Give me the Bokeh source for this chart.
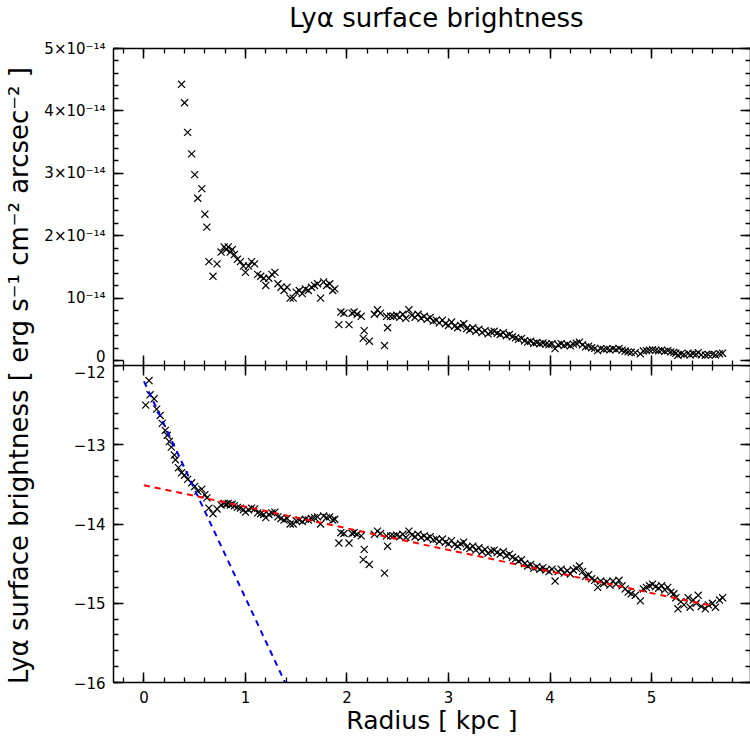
import math
import numpy as np
from bokeh.plotting import figure
from bokeh.models import (Range1d, LinearAxis, FixedTicker, CustomJSTickFormatter,
                          CustomLabelingPolicy)
from bokeh.layouts import row, column
from bokeh.embed import file_html
from bokeh.resources import INLINE
from bokeh.core.properties import value

# ---------------- data ----------------
radius = [
    0.017, 0.05, 0.06, 0.10, 0.125, 0.16, 0.18, 0.21, 0.23, 0.25, 0.27, 0.30, 0.31, 0.34,
    0.37, 0.40, 0.43, 0.47, 0.50, 0.53, 0.57, 0.60, 0.62, 0.64, 0.68, 0.72, 0.76,
    0.79, 0.81, 0.83, 0.85, 0.87, 0.89, 0.92, 0.95, 0.98, 1.00, 1.03, 1.06, 1.09, 1.12,
    1.15, 1.18, 1.20, 1.23, 1.26, 1.29, 1.32, 1.35, 1.38, 1.41, 1.44, 1.47, 1.50, 1.53,
    1.56, 1.59, 1.62, 1.65, 1.68, 1.71, 1.74, 1.77, 1.80, 1.83, 1.86, 1.88,
    1.92, 1.94, 1.97, 2.02, 2.05, 2.07, 2.10, 2.14, 2.16, 2.17, 2.22, 2.27, 2.30, 2.33,
    2.37, 2.39, 2.40, 2.43,
    2.46, 2.49, 2.52, 2.55, 2.58, 2.61, 2.64, 2.67, 2.70, 2.73, 2.76, 2.79, 2.82, 2.85,
    2.88, 2.91, 2.94, 2.97, 3.00, 3.03, 3.06, 3.09, 3.12, 3.15, 3.18, 3.21, 3.24, 3.27,
    3.30, 3.33, 3.36, 3.39, 3.42, 3.45, 3.48, 3.51, 3.54, 3.57, 3.60, 3.63, 3.66, 3.69,
    3.72, 3.75, 3.78, 3.81, 3.84, 3.87,
    3.90, 3.93, 3.96, 3.99, 4.02, 4.05, 4.08, 4.11, 4.14, 4.17, 4.20, 4.23, 4.26, 4.29,
    4.32, 4.35, 4.38, 4.41, 4.44, 4.47, 4.50, 4.53, 4.56, 4.59, 4.62, 4.65, 4.68, 4.71,
    4.74, 4.77, 4.80, 4.84, 4.89, 4.92, 4.95, 4.98, 5.01, 5.04, 5.07, 5.10, 5.13, 5.16,
    5.19, 5.22, 5.24, 5.26, 5.29, 5.32, 5.36, 5.38, 5.41, 5.44, 5.46, 5.49, 5.53, 5.56,
    5.60, 5.63, 5.67, 5.70,
]
log_sb = [
    -12.50, -12.19, -12.37, -12.42, -12.55, -12.63, -12.73, -12.82, -12.88, -12.96, -13.03, -13.13, -13.19, -13.29,
    -13.354, -13.384, -13.437, -13.48, -13.526, -13.585, -13.56, -13.63, -13.67, -13.80, -13.87, -13.81, -13.76,
    -13.74, -13.75, -13.74, -13.76, -13.75, -13.77, -13.79, -13.80, -13.82, -13.85, -13.82, -13.80, -13.81, -13.86,
    -13.87, -13.88, -13.92, -13.88, -13.86, -13.85, -13.91, -13.93, -13.95, -13.93, -14.00, -14.00, -13.96, -13.95,
    -13.97, -13.94, -13.95, -13.93, -13.92, -13.91, -14.00, -13.90, -13.92, -13.91, -13.95, -13.94,
    -14.24, -14.11, -14.12, -14.24, -14.12, -14.11, -14.13, -14.15, -14.45, -14.32, -14.51, -14.13, -14.09, -14.12,
    -14.62, -14.15, -14.28, -14.15,
    -14.15, -14.14, -14.16, -14.13, -14.17, -14.09, -14.14, -14.16, -14.13, -14.17, -14.15, -14.18, -14.16, -14.20,
    -14.19, -14.22, -14.19, -14.23, -14.25, -14.21, -14.26, -14.28, -14.25, -14.23, -14.29, -14.31, -14.28, -14.33,
    -14.30, -14.35, -14.32, -14.37, -14.34, -14.33, -14.36, -14.38, -14.35, -14.40, -14.38, -14.42, -14.44, -14.47,
    -14.45, -14.50, -14.53, -14.51, -14.56, -14.54,
    -14.57, -14.55, -14.58, -14.60, -14.57, -14.72, -14.60, -14.57, -14.62, -14.59, -14.63, -14.58, -14.56, -14.53,
    -14.60, -14.66, -14.64, -14.69, -14.71, -14.80, -14.72, -14.75, -14.73, -14.77, -14.72, -14.76, -14.71, -14.78,
    -14.82, -14.86, -14.88, -14.90, -14.97, -14.82, -14.80, -14.78, -14.76, -14.79, -14.81, -14.78, -14.83, -14.80,
    -14.86, -14.88, -14.93, -15.07, -14.98, -15.02, -14.93, -15.05, -14.96, -15.00, -14.90, -15.04, -15.07, -15.02,
    -15.00, -15.05, -14.96, -14.93,
]
sb = [10.0 ** v for v in log_sb]          # linear surface brightness (top panel)

fit_inner_r = [0.0, 1.39]                 # blue dashed fit (inner component)
fit_inner_logsb = [-12.20, -16.00]
fit_outer_r = [0.0, 5.62]                 # red dashed fit (outer component)
fit_outer_logsb = [-13.51, -15.04]

x_major = [0, 1, 2, 3, 4, 5]
log_major = [-16, -15, -14, -13, -12]
lin_major = [0.0, 1e-14, 2e-14, 3e-14, 4e-14, 5e-14]

title_text = "Lyα surface brightness"
x_label = "Radius [ kpc ]"
y_label = "Lyα surface brightness [ erg s⁻¹ cm⁻² arcsec⁻² ]"

# ---------------- styling ----------------
FONT = "DejaVu Sans"
x_minor = [round(v, 2) for v in np.arange(-0.2, 6.0, 0.2)]
log_minor = [round(v, 2) for v in np.arange(-16.0, -11.9, 0.2)]
lin_minor = [v * 1e-14 for v in np.arange(0.0, 5.01, 0.2)]

x_ticker = FixedTicker(ticks=x_major, minor_ticks=x_minor)
log_ticker = FixedTicker(ticks=log_major, minor_ticks=log_minor)
lin_ticker = FixedTicker(ticks=lin_major, minor_ticks=lin_minor)

log_fmt = CustomJSTickFormatter(code="""
return tick < 0 ? '\\u2212' + Math.abs(tick).toFixed(0) : tick.toFixed(0);
""")
lin_fmt = CustomJSTickFormatter(code="""
const k = Math.round(tick / 1e-14);
if (k == 0) { return '0'; }
if (k == 1) { return '10\\u207b\\u00b9\\u2074'; }
return k + '\\u00d710\\u207b\\u00b9\\u2074';
""")
no_labels = CustomLabelingPolicy(code="""
for (const i of indices) { if (i < 0) { yield i; } }
""")


def style_axis(ax, ticker, show_labels, fmt=None):
    ax.ticker = ticker
    ax.major_tick_in = 10
    ax.major_tick_out = 0
    ax.minor_tick_in = 5
    ax.minor_tick_out = 0
    ax.axis_line_width = 1.5
    ax.major_tick_line_width = 1.5
    ax.minor_tick_line_width = 1.3
    ax.axis_line_color = "black"
    ax.major_tick_line_color = "black"
    ax.minor_tick_line_color = "black"
    if fmt is not None:
        ax.formatter = fmt
    if show_labels:
        ax.major_label_text_font = FONT
        ax.major_label_text_font_size = "15px"
        ax.major_label_text_color = "black"
        ax.major_label_standoff = 8
    else:
        ax.major_label_policy = no_labels
        ax.major_label_text_font_size = "0px"
        ax.major_label_standoff = 0


def bare(fig):
    fig.outline_line_color = None
    fig.xgrid.visible = False
    fig.ygrid.visible = False


x_range = Range1d(-0.3, 5.975)

STRIP = 36
LEFT = 113 - STRIP
FW = LEFT + 636 + 1
TITLE_H = 34
TOP_H = 365 - TITLE_H
BOT_H = 746 - 365

# ---------------- title strip ----------------
ttl = figure(width=FW, height=TITLE_H, x_range=Range1d(0, FW), y_range=Range1d(0, TITLE_H),
             output_backend="svg", toolbar_location=None,
             x_axis_location=None, y_axis_location=None,
             min_border_left=0, min_border_right=0, min_border_top=0, min_border_bottom=0)
bare(ttl)
ttl.text(x=[LEFT + 285], y=[TITLE_H / 2], text=[title_text],
         text_align="center", text_baseline="middle",
         text_font=value(FONT), text_font_size="26px", text_color="black")

# ---------------- top panel ----------------
top = figure(width=FW, height=TOP_H, x_range=x_range, y_range=Range1d(-0.08e-14, 5e-14),
             output_backend="svg", toolbar_location=None,
             min_border_left=LEFT, min_border_right=0, min_border_top=48 - TITLE_H,
             min_border_bottom=0)
top.scatter(radius, sb, marker="x", size=10, line_color="black", line_width=1.2)
style_axis(top.xaxis[0], x_ticker, False)
style_axis(top.yaxis[0], lin_ticker, True, lin_fmt)
ax_t = LinearAxis()
style_axis(ax_t, x_ticker, False)
top.add_layout(ax_t, "above")
ax_r = LinearAxis()
style_axis(ax_r, lin_ticker, False)
top.add_layout(ax_r, "right")

# ---------------- bottom panel ----------------
bot = figure(width=FW, height=BOT_H, x_range=x_range, y_range=Range1d(-16, -12),
             output_backend="svg", toolbar_location=None,
             min_border_left=LEFT, min_border_right=0, min_border_top=0, min_border_bottom=64)
bot.scatter(radius, log_sb, marker="x", size=10, line_color="black", line_width=1.2)
bot.line(fit_outer_r, fit_outer_logsb, line_color="red", line_dash="6 5", line_width=2)
bot.line(fit_inner_r, fit_inner_logsb, line_color="blue", line_dash="6 5", line_width=2)
style_axis(bot.xaxis[0], x_ticker, True)
bot.xaxis[0].axis_label = x_label
bot.xaxis[0].axis_label_text_font = FONT
bot.xaxis[0].axis_label_text_font_size = "25px"
bot.xaxis[0].axis_label_text_font_style = "normal"
bot.xaxis[0].axis_label_text_color = "black"
bot.xaxis[0].axis_label_standoff = 0
style_axis(bot.yaxis[0], log_ticker, True, log_fmt)
ax_t2 = LinearAxis()
style_axis(ax_t2, x_ticker, False)
bot.add_layout(ax_t2, "above")
ax_r2 = LinearAxis()
style_axis(ax_r2, log_ticker, False)
bot.add_layout(ax_r2, "right")

for p in (top, bot):
    p.xgrid.visible = False
    p.ygrid.visible = False
    p.outline_line_color = None
    p.background_fill_color = "white"
    p.border_fill_color = "white"

# ---------------- y label strip ----------------
H = TITLE_H + TOP_H + BOT_H
lab = figure(width=STRIP, height=H, x_range=Range1d(0, STRIP), y_range=Range1d(0, H),
             output_backend="svg", toolbar_location=None,
             x_axis_location=None, y_axis_location=None,
             min_border_left=0, min_border_right=0, min_border_top=0, min_border_bottom=0)
bare(lab)
lab.text(x=[18], y=[H - 375], text=[y_label], angle=math.pi / 2,
         text_align="center", text_baseline="middle",
         text_font=value(FONT), text_font_size="26px", text_color="black")

layout = row(lab, column(ttl, top, bot))

open("out.html", "w").write(file_html(layout, INLINE))
